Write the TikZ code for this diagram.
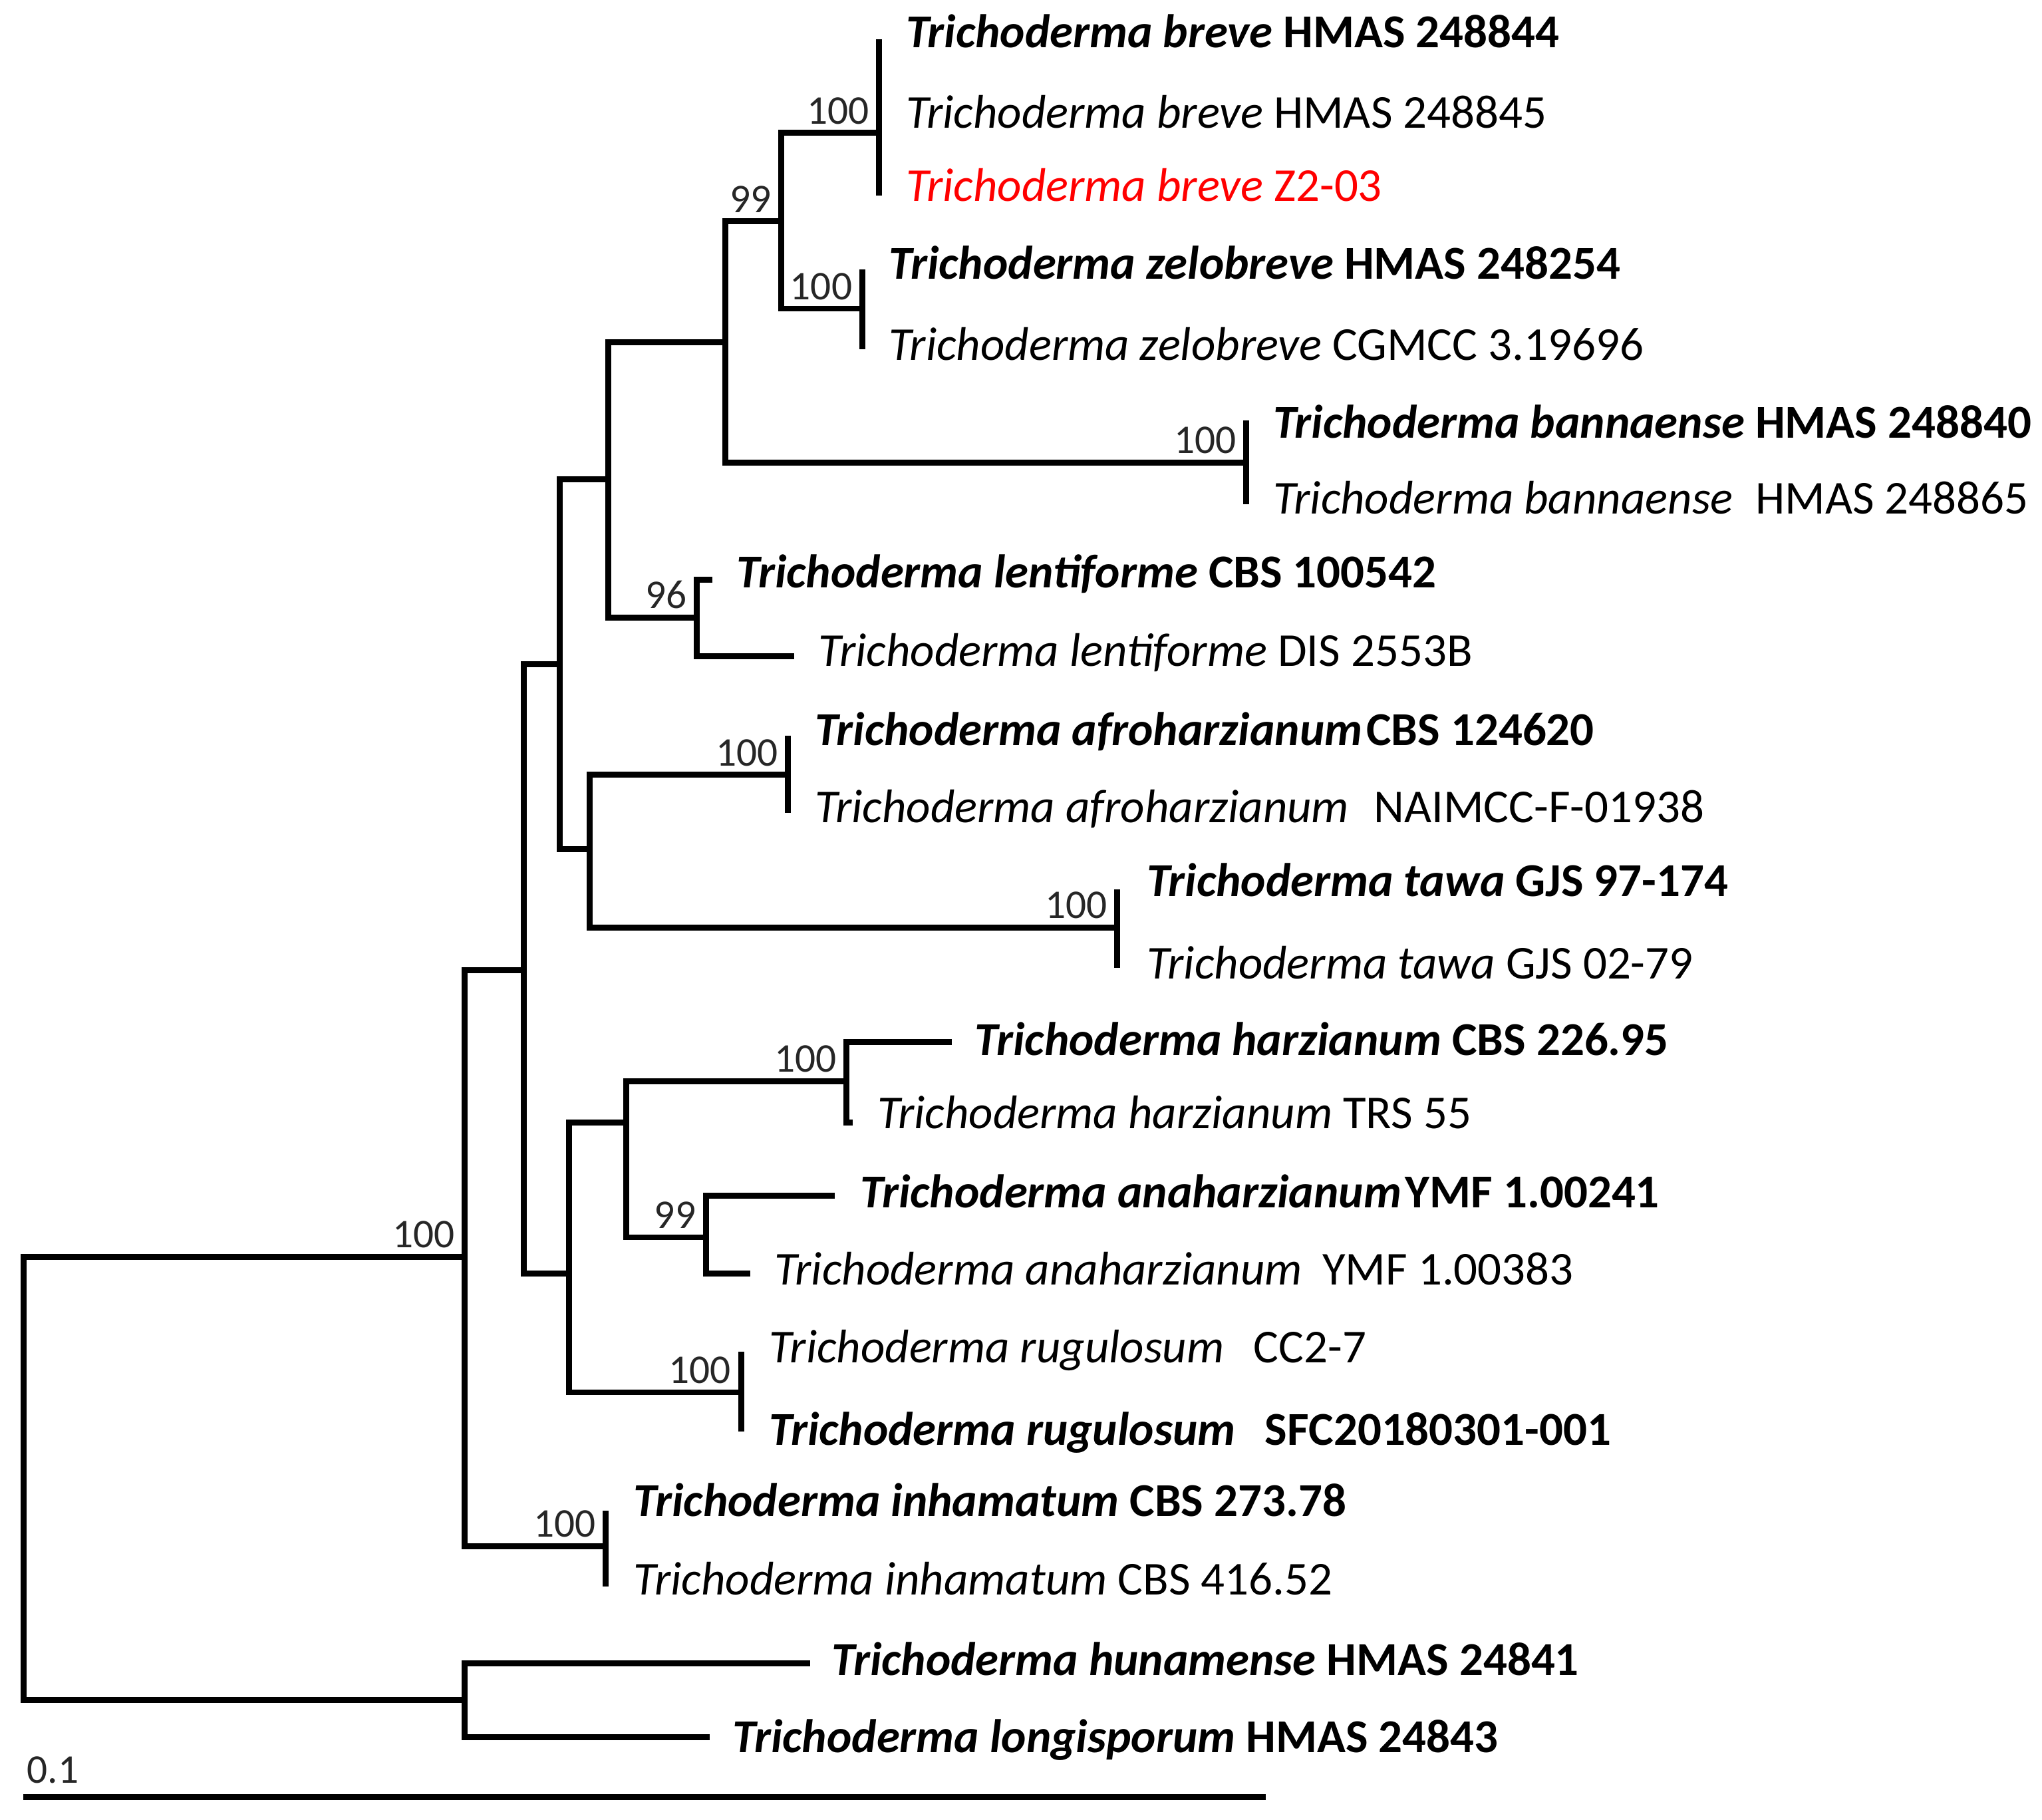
\documentclass[tikz,border=0pt]{standalone}
\usepackage{fontspec}
\setmainfont{Carlito}
\begin{document}
\begin{tikzpicture}[x=0.01cm,y=-0.01cm,
  br/.style={line width=1.3pt, line join=miter},
  leaf/.style={anchor=mid west, inner sep=0pt, font=\fontsize{10.3}{12}\selectfont},
  bs/.style={anchor=south east, inner sep=0pt, font=\fontsize{8.9}{10}\selectfont, text=black!85}]
\useasboundingbox (0,0) rectangle (1568,1397);
% internal nodes
\coordinate (root) at (18,1135);
\coordinate (nIn) at (357,965);
\coordinate (nOut) at (357,1305);
\coordinate (nA) at (402,745);
\coordinate (nU) at (430,510);
\coordinate (nU1) at (467,368);
\coordinate (nBB) at (557,263);
\coordinate (nBZ) at (600,170);
\coordinate (nBr) at (675,102);
\coordinate (nZel) at (662,237);
\coordinate (nBan) at (957,355);
\coordinate (nLen) at (535,474);
\coordinate (nU2) at (453,652);
\coordinate (nAf) at (605,595);
\coordinate (nTa) at (858,712);
\coordinate (nL) at (437,978);
\coordinate (nH) at (481,862);
\coordinate (nHa) at (650,830);
\coordinate (nAn) at (542,950);
\coordinate (nRu) at (569,1069);
\coordinate (nInh) at (465,1187);
% tips
\coordinate (tBr1) at (675,30);
\coordinate (tBr2) at (675,87);
\coordinate (tBr3) at (675,150);
\coordinate (tZe1) at (662,207);
\coordinate (tZe2) at (662,268);
\coordinate (tBa1) at (957,323);
\coordinate (tBa2) at (957,387);
\coordinate (tLe1) at (547,445);
\coordinate (tLe2) at (610,504);
\coordinate (tAf1) at (605,565);
\coordinate (tAf2) at (605,624);
\coordinate (tTa1) at (858,683);
\coordinate (tTa2) at (858,743);
\coordinate (tHa1) at (731,800);
\coordinate (tHa2) at (655,862);
\coordinate (tAn1) at (641,918);
\coordinate (tAn2) at (576,978);
\coordinate (tRu1) at (569,1038);
\coordinate (tRu2) at (569,1099);
\coordinate (tIn1) at (465,1160);
\coordinate (tIn2) at (465,1218);
\coordinate (tHu) at (622,1277);
\coordinate (tLo) at (545,1334);
\coordinate (sb1) at (18,1380);
\coordinate (sb2) at (972,1380);
% branches
\draw[br] (root) |- (nIn);
\draw[br] (root) |- (nOut);
\draw[br] (nOut) |- (tHu);
\draw[br] (nOut) |- (tLo);
\draw[br] (nIn) |- (nA);
\draw[br] (nIn) |- (nInh);
\draw[br] (nInh) |- (tIn1);
\draw[br] (nInh) |- (tIn2);
\draw[br] (nA) |- (nU);
\draw[br] (nA) |- (nL);
\draw[br] (nU) |- (nU1);
\draw[br] (nU) |- (nU2);
\draw[br] (nU1) |- (nBB);
\draw[br] (nU1) |- (nLen);
\draw[br] (nBB) |- (nBZ);
\draw[br] (nBB) |- (nBan);
\draw[br] (nBZ) |- (nBr);
\draw[br] (nBZ) |- (nZel);
\draw[br] (nBr) |- (tBr1);
\draw[br] (nBr) |- (tBr2);
\draw[br] (nBr) |- (tBr3);
\draw[br] (nZel) |- (tZe1);
\draw[br] (nZel) |- (tZe2);
\draw[br] (nBan) |- (tBa1);
\draw[br] (nBan) |- (tBa2);
\draw[br] (nLen) |- (tLe1);
\draw[br] (nLen) |- (tLe2);
\draw[br] (nU2) |- (nAf);
\draw[br] (nU2) |- (nTa);
\draw[br] (nAf) |- (tAf1);
\draw[br] (nAf) |- (tAf2);
\draw[br] (nTa) |- (tTa1);
\draw[br] (nTa) |- (tTa2);
\draw[br] (nL) |- (nH);
\draw[br] (nL) |- (nRu);
\draw[br] (nH) |- (nHa);
\draw[br] (nH) |- (nAn);
\draw[br] (nHa) |- (tHa1);
\draw[br] (nHa) |- (tHa2);
\draw[br] (nAn) |- (tAn1);
\draw[br] (nAn) |- (tAn2);
\draw[br] (nRu) |- (tRu1);
\draw[br] (nRu) |- (tRu2);
\draw[br] (sb1) -- (sb2);
% bootstrap labels
\node[bs] (bIn) at ([shift={(-7,-6)}]nIn) {100};
\node[bs] (bBZ) at ([shift={(-7,-6)}]nBZ) {99};
\node[bs] (bBr) at ([shift={(-7,-6)}]nBr) {100};
\node[bs] (bZel) at ([shift={(-7,-6)}]nZel) {100};
\node[bs] (bBan) at ([shift={(-7,-6)}]nBan) {100};
\node[bs] (bLen) at ([shift={(-7,-6)}]nLen) {96};
\node[bs] (bAf) at ([shift={(-7,-6)}]nAf) {100};
\node[bs] (bTa) at ([shift={(-7,-6)}]nTa) {100};
\node[bs] (bHa) at ([shift={(-7,-6)}]nHa) {100};
\node[bs] (bAn) at ([shift={(-7,-6)}]nAn) {99};
\node[bs] (bRu) at ([shift={(-7,-6)}]nRu) {100};
\node[bs] (bInh) at ([shift={(-7,-6)}]nInh) {100};
\node[bs, anchor=south west] (bSc) at (20,1370) {0.1};
% leaf labels
\node[leaf] (l1) at (695,28) {\textbf{\textit{Trichoderma breve} HMAS 248844}};
\node[leaf] (l2) at (695,90) {\textit{Trichoderma breve} HMAS 248845};
\node[leaf, text=red] (l3) at (695,146) {\textit{Trichoderma breve} Z2-03};
\node[leaf] (l4) at (682,206) {\textbf{\textit{Trichoderma zelobreve} HMAS 248254}};
\node[leaf] (l5) at (682,268) {\textit{Trichoderma zelobreve} CGMCC 3.19696};
\node[leaf] (l6) at (977,328) {\textbf{\textit{Trichoderma bannaense} HMAS 248840}};
\node[leaf] (l7) at (977,386) {\textit{Trichoderma bannaense}\hspace{0.25em} HMAS 248865};
\node[leaf] (l8) at (565,443) {\textbf{\textit{Trichoderma lentiforme} CBS 100542}};
\node[leaf] (l9) at (628,503) {\textit{Trichoderma lentiforme} DIS 2553B};
\node[leaf] (l10) at (625,564) {\textbf{\textit{Trichoderma afroharzianum}\hspace{0.08em}CBS 124620}};
\node[leaf] (l11) at (625,623) {\textit{Trichoderma afroharzianum}\hspace{0.3em} NAIMCC-F-01938};
\node[leaf] (l12) at (880,680) {\textbf{\textit{Trichoderma tawa} GJS 97-174}};
\node[leaf] (l13) at (880,743) {\textit{Trichoderma tawa} GJS 02-79};
\node[leaf] (l14) at (748,802) {\textbf{\textit{Trichoderma harzianum} CBS 226.95}};
\node[leaf] (l15) at (673,858) {\textit{Trichoderma harzianum} TRS 55};
\node[leaf] (l16) at (660,919) {\textbf{\textit{Trichoderma anaharzianum}\hspace{0.08em}YMF 1.00241}};
\node[leaf] (l17) at (594,978) {\textit{Trichoderma anaharzianum}\hspace{0.2em} YMF 1.00383};
\node[leaf] (l18) at (590,1038) {\textit{Trichoderma rugulosum}\hspace{0.4em} CC2-7};
\node[leaf] (l19) at (590,1101) {\textbf{\textit{Trichoderma rugulosum}\hspace{0.4em} SFC20180301-001}};
\node[leaf] (l20) at (486,1156) {\textbf{\textit{Trichoderma inhamatum} CBS 273.78}};
\node[leaf] (l21) at (486,1216) {\textit{Trichoderma inhamatum} CBS 416.52};
\node[leaf] (l22) at (638,1278) {\textbf{\textit{Trichoderma hunamense} HMAS 24841}};
\node[leaf] (l23) at (562,1337) {\textbf{\textit{Trichoderma longisporum} HMAS 24843}};
\end{tikzpicture}
\end{document}
